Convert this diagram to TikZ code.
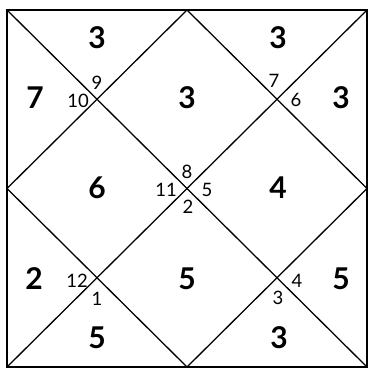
\documentclass[tikz,border=0pt]{standalone}
\usepackage{fontspec}
\setmainfont{Lato}
\begin{document}
\begin{tikzpicture}[x=1pt,y=-1pt,
  big/.style={font=\fontsize{30}{30}\selectfont\bfseries, inner sep=0pt},
  small/.style={font=\fontsize{18.5}{18.5}\selectfont, inner sep=0pt},
  frame/.style={line width=1.8pt},
  diag/.style={line width=1.3pt}]
\useasboundingbox (0,0) rectangle (368,369);
\coordinate (tl) at (7,10);
\coordinate (tr) at (367,10);
\coordinate (br) at (367,367);
\coordinate (bl) at (7,367);
\coordinate (tm) at (187,10);
\coordinate (rm) at (367,188.5);
\coordinate (bm) at (187,367);
\coordinate (lm) at (7,188.5);
\draw[frame] (tl) -- (tr) -- (br) -- (bl) -- cycle;
\draw[diag] (tl) -- (br);
\draw[diag] (tr) -- (bl);
\draw[diag] (tm) -- (rm) -- (bm) -- (lm) -- cycle;
% big numbers
\node[big] (h1) at (97,38) {3};
\node[big] (h2) at (35,98) {7};
\node[big] (h3) at (187,98) {3};
\node[big] (h4) at (278,38) {3};
\node[big] (h5) at (341,98) {3};
\node[big] (h6) at (97,188) {6};
\node[big] (h7) at (278,188) {4};
\node[big] (h8) at (34,279) {2};
\node[big] (h9) at (187,279) {5};
\node[big] (h10) at (341,279) {5};
\node[big] (h11) at (97,338) {5};
\node[big] (h12) at (279,338) {3};
% small numbers
\node[small] (s9) at (97,83) {9};
\node[small] (s10) at (78,101) {10};
\node[small] (s7) at (274,81) {7};
\node[small] (s6) at (296,100) {6};
\node[small] (s8) at (187,172) {8};
\node[small] (s11) at (166,190) {11};
\node[small] (s5) at (207,190) {5};
\node[small] (s2) at (188,207) {2};
\node[small] (s12) at (77,281) {12};
\node[small] (s1) at (97,299) {1};
\node[small] (s4) at (297,281) {4};
\node[small] (s3) at (278,298) {3};
\end{tikzpicture}
\end{document}
